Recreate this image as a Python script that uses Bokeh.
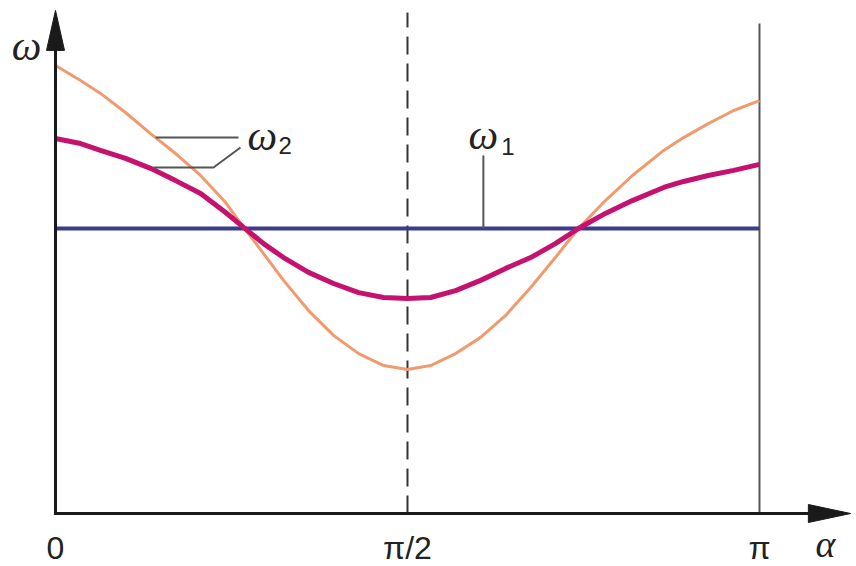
from bokeh.plotting import figure
from bokeh.models import Range1d, Label
from bokeh.embed import file_html
from bokeh.resources import INLINE

# ---- data (alpha in degrees, omega relative to omega1) ----
alpha_ticks = [0, 90, 180]
alpha_tick_labels = ["0", "π/2", "π"]

omega1 = 1.0

alpha = [0, 6.4, 11.5, 17.9, 24.3, 30.7, 37.1, 43.5, 48.1, 53.2, 58.3, 64.7, 71.1, 77.5, 83.9,
         90, 95.9, 102.3, 108.7, 115.1, 121.5, 127.8, 133.7, 140.6, 147.5, 155.5, 160.6, 166.9, 173.4, 180]

omega2_magenta = [1.316, 1.298, 1.274, 1.246, 1.211, 1.168, 1.123, 1.056, 1.004, 0.947, 0.898, 0.846,
                  0.807, 0.775, 0.758, 0.754, 0.758, 0.782, 0.818, 0.860, 0.898, 0.947, 1.000, 1.053,
                  1.098, 1.144, 1.165, 1.186, 1.204, 1.225]

omega2_orange = [1.572, 1.519, 1.474, 1.407, 1.333, 1.263, 1.186, 1.091, 1.004, 0.912, 0.818, 0.712,
                 0.625, 0.561, 0.519, 0.505, 0.519, 0.561, 0.618, 0.695, 0.793, 0.898, 1.000, 1.098,
                 1.186, 1.274, 1.319, 1.368, 1.414, 1.449]

# ---- figure geometry ----
W, H = 854, 566
PX_X = 3.911   # px per degree
PX_Y = 285.0   # px per omega unit
OX, OY = 55, 513  # pixel position of the origin
X0, X1 = -OX / PX_X, (W - OX) / PX_X
Y0, Y1 = (OY - H) / PX_Y, OY / PX_Y

p = figure(width=W, height=H, x_range=Range1d(X0, X1), y_range=Range1d(Y0, Y1),
           output_backend="svg", toolbar_location=None, x_axis_type=None, y_axis_type=None,
           min_border=0)
p.grid.visible = False
p.outline_line_color = None
p.background_fill_color = "white"
p.border_fill_color = "white"

# vertical reference lines at pi/2 (dashed) and pi (solid)
p.segment(x0=[alpha_ticks[1]], y0=[0], x1=[alpha_ticks[1]], y1=[1.758],
          line_color="#333333", line_width=2, line_dash="18 9")
p.segment(x0=[alpha_ticks[2]], y0=[0], x1=[alpha_ticks[2]], y1=[1.719],
          line_color="#555555", line_width=2)

# curves
p.line([alpha[0], alpha[-1]], [omega1, omega1], line_color="#3b3b8f", line_width=4)
p.line(alpha, omega2_orange, line_color="#f09a70", line_width=3)
p.line(alpha, omega2_magenta, line_color="#c4126e", line_width=5)

# axes with arrows
ax_col = "#1a1a1a"
xtip, xbase = 203.3, 192.5
ytip, ybase = 1.765, 1.625
hw_y = 9 / PX_Y
hw_x = 9 / PX_X
p.line([-0.4, xbase + 1], [0, 0], line_color=ax_col, line_width=3)
p.line([0, 0], [-1.5 / PX_Y, ybase + 0.01], line_color=ax_col, line_width=3)
p.patch([xbase, xtip, xbase], [-hw_y, 0, hw_y], fill_color=ax_col, line_color=ax_col)
p.patch([-hw_x, 0, hw_x], [ybase, ytip, ybase], fill_color=ax_col, line_color=ax_col)

# leader lines
lead = "#555555"
p.line([109.4, 109.4], [1.256, omega1], line_color=lead, line_width=2)
p.line([25.6, 46.8], [1.319, 1.319], line_color=lead, line_width=2)
p.line([25.1, 40.4, 47.3], [1.214, 1.214, 1.284], line_color=lead, line_width=2)

# texts
def lab(x, y, t, font, size, style="normal", align="left"):
    p.add_layout(Label(x=x, y=y, text=t, text_font=font, text_font_size=size,
                       text_font_style=style, text_color="#222222",
                       text_align=align, text_baseline="middle"))

# tick labels of the alpha axis
for t, s in zip(alpha_ticks, alpha_tick_labels):
    lab(t, (OY - 547) / PX_Y, s, "Liberation Sans", "32px", "normal", "center")
lab((825 - OX) / PX_X, (OY - 543) / PX_Y, "α", "Liberation Serif", "38px", "italic", "center")

# axis title omega
lab(-7.4, (OY - 45) / PX_Y, "ω", "Liberation Serif", "42px", "italic", "center")

# curve labels
lab(105.6, (OY - 134.5) / PX_Y, "ω", "Liberation Serif", "42px", "italic")
lab(114.0, (OY - 145.5) / PX_Y, "1", "Liberation Sans", "24px")
lab(49.1, (OY - 135) / PX_Y, "ω", "Liberation Serif", "42px", "italic")
lab(57.0, (OY - 145) / PX_Y, "2", "Liberation Sans", "24px")

open("out.html", "w").write(file_html(p, INLINE))
